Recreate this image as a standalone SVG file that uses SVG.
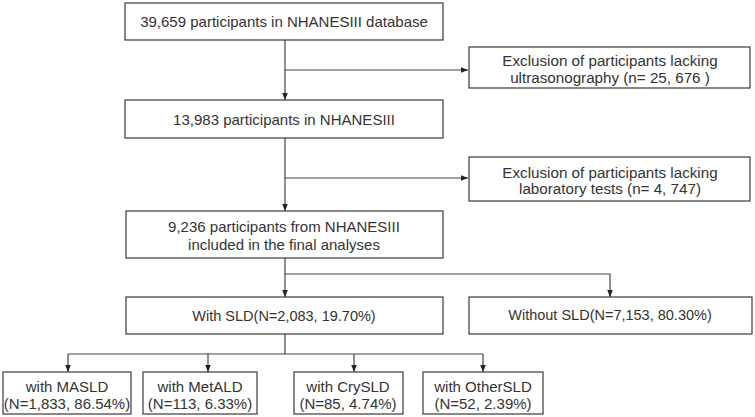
<svg xmlns="http://www.w3.org/2000/svg" width="755" height="417" viewBox="0 0 755 417">
<style>
.box{fill:#fff;stroke:#3a3a3a;stroke-width:1.2}
.t{font-family:"Liberation Sans",Arial,sans-serif;font-size:15px;fill:#333;text-anchor:middle}
.r{font-size:15.2px}
.m{font-size:14.5px}
.ln{fill:none;stroke:#444;stroke-width:1.2}
</style>
<defs>
<marker id="ah" viewBox="0 0 10 10" refX="10" refY="5" markerWidth="7" markerHeight="7" markerUnits="userSpaceOnUse" orient="auto"><path d="M0,1 L10,5 L0,9 z" fill="#222"/></marker>
</defs>
<rect width="755" height="417" fill="#fff"/>
<g id="connectors">
<path class="ln" d="M285,40 V100" marker-end="url(#ah)"/>
<path class="ln" d="M285,70 H468" marker-end="url(#ah)"/>
<path class="ln" d="M285,138 V211" marker-end="url(#ah)"/>
<path class="ln" d="M285,178 H468" marker-end="url(#ah)"/>
<path class="ln" d="M285,258 V297" marker-end="url(#ah)"/>
<path class="ln" d="M285,274 H610 V297" marker-end="url(#ah)"/>
<path class="ln" d="M285,334 V354"/>
<path class="ln" d="M68,354 H483"/>
<path class="ln" d="M68,354 V372" marker-end="url(#ah)"/>
<path class="ln" d="M208,354 V372" marker-end="url(#ah)"/>
<path class="ln" d="M354,354 V372" marker-end="url(#ah)"/>
<path class="ln" d="M483,354 V372" marker-end="url(#ah)"/>
</g>
<g id="n1"><rect class="box" x="125" y="3" width="318" height="37"/><text class="t" x="284" y="27">39,659 participants in NHANESIII database</text></g>
<g id="n2"><rect class="box" x="469" y="47" width="281" height="41"/><text class="t r" x="610" y="65.5">Exclusion of participants lacking</text><text class="t r" x="610" y="82.5">ultrasonography (n= 25, 676 )</text></g>
<g id="n3"><rect class="box" x="125" y="100" width="318" height="38"/><text class="t" x="284" y="124.5">13,983 participants in NHANESIII</text></g>
<g id="n4"><rect class="box" x="469" y="157" width="281" height="44"/><text class="t r" x="610" y="177.5">Exclusion of participants lacking</text><text class="t r" x="610" y="194">laboratory tests (n= 4, 747)</text></g>
<g id="n5"><rect class="box" x="126" y="211" width="317" height="47"/><text class="t" x="284" y="231.5">9,236 participants from NHANESIII</text><text class="t" x="284" y="249.5">included in the final analyses</text></g>
<g id="n6"><rect class="box" x="126" y="297" width="317" height="37"/><text class="t m" x="284" y="321">With SLD(N=2,083, 19.70%)</text></g>
<g id="n7"><rect class="box" x="469" y="297" width="283" height="37"/><text class="t m" x="610" y="320">Without SLD(N=7,153, 80.30%)</text></g>
<g id="n8"><rect class="box" x="3" y="372" width="128" height="42"/><text class="t" x="67" y="392">with MASLD</text><text class="t" x="67" y="409">(N=1,833, 86.54%)</text></g>
<g id="n9"><rect class="box" x="143" y="372" width="114" height="42"/><text class="t" x="200" y="392">with MetALD</text><text class="t" x="200" y="409">(N=113, 6.33%)</text></g>
<g id="n10"><rect class="box" x="294" y="372" width="109" height="42"/><text class="t" x="348" y="392">with CrySLD</text><text class="t" x="348" y="409">(N=85, 4.74%)</text></g>
<g id="n11"><rect class="box" x="423" y="372" width="120" height="42"/><text class="t" x="483" y="392">with OtherSLD</text><text class="t" x="483" y="409">(N=52, 2.39%)</text></g>
</svg>
